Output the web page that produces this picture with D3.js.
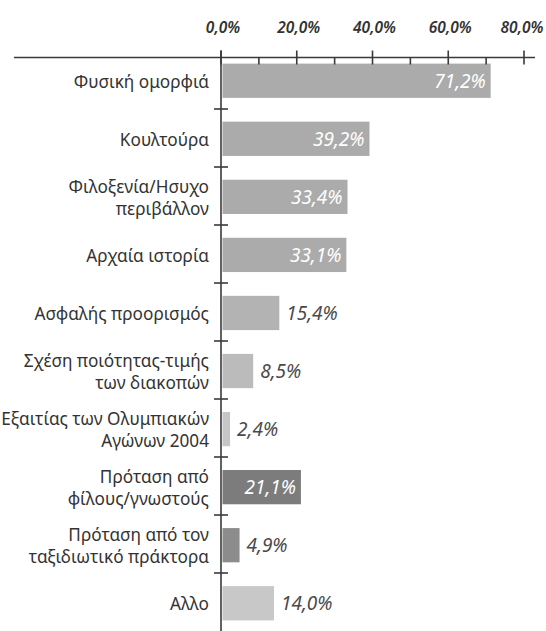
<!DOCTYPE html>
<html>
<head>
<meta charset="utf-8">
<script src="https://cdn.jsdelivr.net/npm/d3@7"></script>
<style>
  html, body { margin: 0; padding: 0; background: #fff; }
  svg { display: block; }
</style>
</head>
<body>
<svg id="chart" width="546" height="631"></svg>
<script>
const categories = [
  ["Φυσική ομορφιά"],
  ["Κουλτούρα"],
  ["Φιλοξενία/Ησυχο", "περιβάλλον"],
  ["Αρχαία ιστορία"],
  ["Ασφαλής προορισμός"],
  ["Σχέση ποιότητας-τιμής", "των διακοπών"],
  ["Εξαιτίας των Ολυμπιακών", "Αγώνων 2004"],
  ["Πρόταση από", "φίλους/γνωστούς"],
  ["Πρόταση από τον", "ταξιδιωτικό πράκτορα"],
  ["Αλλο"]
];
const values = [71.2, 39.2, 33.4, 33.1, 15.4, 8.5, 2.4, 21.1, 4.9, 14.0];
const majorTicks = [0, 20, 40, 60, 80];
const minorTicks = [10, 30, 50, 70];
const barColors = ["#ababab", "#ababab", "#ababab", "#ababab", "#b3b3b3", "#bbbbbb", "#c6c6c6", "#7c7c7c", "#8c8c8c", "#c8c8c8"];
const insideLabel = [true, true, true, true, false, false, false, true, false, false];

const fmt = v => v.toFixed(1).replace(".", ",") + "%";

const svg = d3.select("#chart");
const axisColor = "#3a3a3a";
const font = "'Noto Sans', 'Open Sans', sans-serif";

const x = d3.scaleLinear().domain([0, 80]).range([221, 524]);
const idx = d3.range(categories.length);
const y = d3.scaleBand().domain(idx).range([51, 631]).paddingInner(0.41).paddingOuter(0.2);
const yStep = d3.scaleBand().domain(idx).range([51, 631]);

const axisY = 57.5;

// bars
svg.append("g").selectAll("rect").data(idx).join("rect")
  .attr("x", x(0) + 1.5)
  .attr("y", i => y(i) + 1)
  .attr("width", i => x(values[i]) - x(0) - 1.5)
  .attr("height", y.bandwidth())
  .attr("fill", i => barColors[i]);

// value labels
svg.append("g").selectAll("text").data(idx).join("text")
  .attr("x", i => insideLabel[i] ? x(values[i]) - 5 : x(values[i]) + 7)
  .attr("y", i => y(i) + 1 + y.bandwidth() / 2 + 7)
  .attr("text-anchor", i => insideLabel[i] ? "end" : "start")
  .attr("fill", i => insideLabel[i] ? "#ffffff" : "#4a4a4a")
  .attr("font-family", font)
  .attr("font-style", "italic")
  .attr("font-size", 19)
  .text(i => fmt(values[i]));

// category labels
const catG = svg.append("g");
idx.forEach(i => {
  const lines = categories[i];
  const cy = yStep(i) + yStep.bandwidth() / 2 + 2;
  const lh = 22;
  const t = catG.append("text")
    .attr("text-anchor", "end")
    .attr("font-family", font)
    .attr("font-size", 17.2)
    .attr("fill", "#333");
  lines.forEach((ln, k) => {
    const off = (k - (lines.length - 1) / 2) * lh;
    t.append("tspan").attr("x", 209).attr("y", cy + off + 6).text(ln);
  });
});

// horizontal axis
const gx = svg.append("g").attr("stroke", axisColor).attr("stroke-width", 1.6);
gx.append("line").attr("x1", 14).attr("x2", 535).attr("y1", axisY).attr("y2", axisY);
gx.selectAll("line.maj").data(majorTicks).join("line").attr("class", "maj")
  .attr("x1", d => x(d)).attr("x2", d => x(d)).attr("y1", axisY - 7).attr("y2", axisY + 7);
gx.selectAll("line.min").data(minorTicks).join("line").attr("class", "min")
  .attr("x1", d => x(d)).attr("x2", d => x(d)).attr("y1", axisY).attr("y2", axisY + 7);

svg.append("g").selectAll("text").data(majorTicks).join("text")
  .attr("x", d => Math.min(x(d) + 2, 522))
  .attr("y", 33)
  .attr("text-anchor", "middle")
  .attr("font-family", font)
  .attr("font-style", "italic")
  .attr("font-weight", 600)
  .attr("font-size", 15.5)
  .attr("fill", "#333")
  .text(d => fmt(d));

// vertical axis
const gy = svg.append("g").attr("stroke", axisColor).attr("stroke-width", 1.6);
gy.append("line").attr("x1", x(0)).attr("x2", x(0)).attr("y1", axisY - 7).attr("y2", 631);
gy.selectAll("line.t").data(idx.slice(1)).join("line").attr("class", "t")
  .attr("x1", x(0) - 7).attr("x2", x(0) + 7)
  .attr("y1", i => yStep(i)).attr("y2", i => yStep(i));
</script>
</body>
</html>
